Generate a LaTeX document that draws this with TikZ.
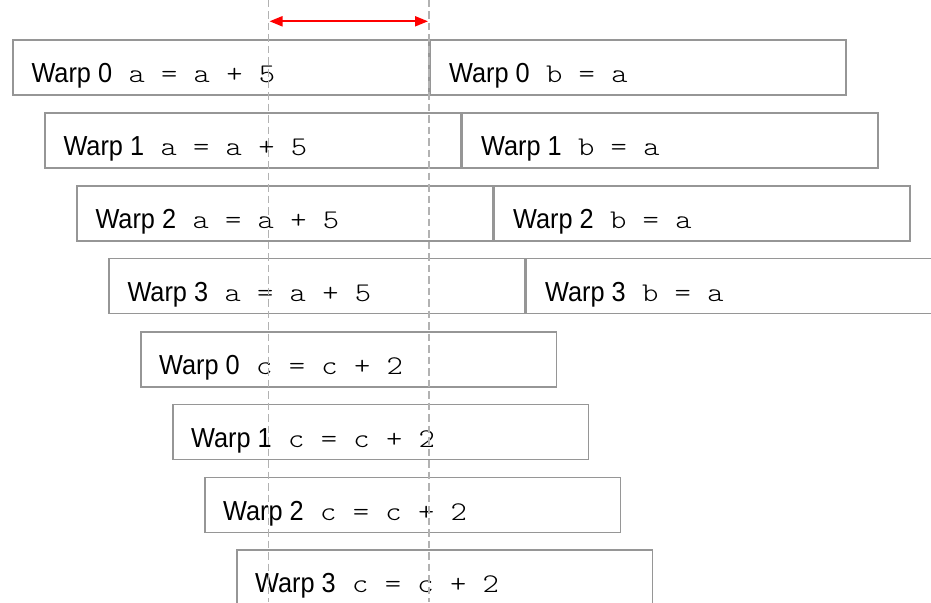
\documentclass[tikz,border=0pt]{standalone}
\usepackage{fontspec}
\setmainfont[FakeStretch=0.92]{Liberation Sans}
\newfontfamily\codefont[FakeStretch=1.15]{lmmonolt10-regular.otf}
\usetikzlibrary{arrows.meta,calc}

\definecolor{boxgray}{RGB}{150,150,150}
\definecolor{guidegray}{RGB}{178,178,178}

\tikzset{
  warpbox/.style={draw=boxgray, line width=1.6pt, minimum width=415.5pt,
    minimum height=55pt, anchor=north west, inner sep=0pt},
  lbl/.style={anchor=base west, inner sep=0pt, font=\fontsize{27.5}{30}\selectfont},
  guide/.style={draw=guidegray, line width=1.6pt, dash pattern=on 7.5pt off 4pt},
  span/.style={draw=red, line width=2pt,
    {Triangle[length=13pt,width=10pt]}-{Triangle[length=13pt,width=10pt]}},
}

% "Warp n" label followed by the instruction in monospace
\newcommand{\warpline}[2]{\makebox[97pt][l]{Warp #1}{\codefont\fontsize{27}{30}\selectfont #2}}

\begin{document}
\begin{tikzpicture}[x=1pt, y=-1pt]
  \useasboundingbox (0,0) rectangle (931,602);
  \clip (0,0) rectangle (931,602);
  \fill[white] (0,0) rectangle (931,602);

  % first instruction pair: a = a + 5 followed by b = a
  \foreach \i in {0,1,2,3} {
    \pgfmathsetmacro{\bx}{12.3+32*\i}
    \pgfmathsetmacro{\by}{39.3+72.8*\i}
    \node[warpbox] (b\i a) at (\bx,\by) {};
    \node[warpbox] (b\i b) at (b\i a.north east) {};
    \node[lbl] (t\i a) at ($(b\i a.north west)+(19,43.5)$) {\warpline{\i}{a = a + 5}};
    \node[lbl] (t\i b) at ($(b\i b.north west)+(19.5,43.5)$) {\warpline{\i}{b = a}};
  }

  % second instruction: c = c + 2
  \foreach \i in {0,1,2,3} {
    \pgfmathsetmacro{\bx}{140+32*\i}
    \pgfmathsetmacro{\by}{331+72.8*\i}
    \node[warpbox] (c\i) at (\bx,\by) {};
    \node[lbl] (u\i) at ($(c\i.north west)+(19,43.5)$) {\warpline{\i}{c = c + 2}};
  }

  % latency guides
  \coordinate (g1top) at (268.3,0);
  \coordinate (g1bot) at (268.3,602);
  \coordinate (g2top) at (429,0);
  \coordinate (g2bot) at (429,602);
  \draw[guide] (g1top) -- (g1bot);
  \draw[guide] (g2top) -- (g2bot);

  \coordinate (s1) at (269.5,21.3);
  \coordinate (s2) at (428,21.3);
  \draw[span] (s1) -- (s2);
\end{tikzpicture}
\end{document}
